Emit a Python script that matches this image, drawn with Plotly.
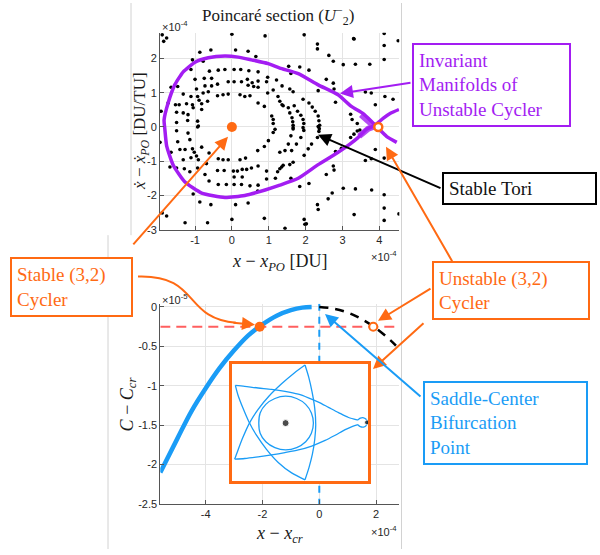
import plotly.graph_objects as go

W, H = 600, 555

# ---------------- DATA (upper panel: Poincaré section, units 1e-4) ----------------
tori_x = [-1.89, -1.77, -1.85, 0.0, -0.87, -0.57, 0.1, 0.44, 0.65, -1.07, -0.78, -1.11, -0.61, -0.37, -0.19, 0.06, 0.24,
          0.46, 0.71, 0.97, -1.0, -0.75, -0.55, -0.1, 0.06, 0.26, 0.42, 0.55, 0.71, 0.94, 1.21, -1.47, -0.96, -0.73,
          -0.55, -0.39, 0.44, 0.59, 0.71, -1.65, -1.32, -1.11, -0.93, -0.78, -0.64, -0.39, -0.24, -0.1, 0.22, 0.35,
          0.49, 0.71, 0.88, 0.97, 1.12, 1.25, 1.36, -1.73, -1.53, -1.43, -1.23, -1.07, -0.89, -0.82, -0.66, -1.5,
          -1.32, -1.19, -1.05, -0.82, 1.08, 1.12, -1.5, -1.2, -0.93, -0.91, 1.12, 1.17, -1.92,
          1.96, 2.32, 2.32, 3.315, 4.13, 4.13, 4.13, 2.63, 2.75, 3.02, 3.35, 3.74, 1.54, 1.84, 2.09, 1.6, 2.56, 2.75,
          2.77, 1.36, 1.57, 1.66, 2.34, 3.62, 3.78, 4.15, 4.37, 3.89, 1.93, 2.09, 2.18, 2.81, 1.3, 1.39, 1.53, 1.69,
          1.57, 1.63, 1.66, 1.66, 1.78, 1.87, 1.93, 2.26, 2.34, 2.36, 2.38, 3.22, 3.26, 3.4, 1.65, 1.95, 1.95, 2.37,
          -1.95, -1.5, -1.19, -0.93, -1.14, -1.47, -1.41, -1.27, -1.07, -1.02, -0.82, -0.62, -1.65, -1.68, -1.5,
          -1.32, -1.11, -0.96, -0.91, -0.69, -0.37, -0.24, -0.1, 0.22, 0.37, 0.7, 0.88, 0.99, 1.12, -1.29, -1.14,
          -0.93, -0.73, -0.39, -0.21, 0.04, 0.15, 0.28, 0.4, 0.53, 0.71, 0.94, 1.24, 1.35, -0.62, -0.37, -0.15,
          0.06, 0.26, 0.49, 0.71, 0.94, 1.18, 0.06, 0.28, -1.05, -0.87, -0.57, 0.1, 0.44, 0.7, -1.89, -1.77, -1.27,
          -0.66, 0.0, 0.88,
          1.66, 1.6, 1.53, 1.44, 1.3, 1.93, 1.87, 1.75, 1.62, 2.34, 2.36, 2.32, 2.16, 2.07, 1.96, 1.3, 1.39, 1.57,
          1.66, 1.6, 1.84, 2.09, 2.56, 2.75, 2.77, 2.81, 3.02, 3.35, 2.72, 2.61, 2.32, 2.34, 1.96, 2.02, 1.98, 1.44,
          3.315, 4.13, 4.13, 4.13, 4.53, 3.62, 3.78, 3.89, 4.13, 3.22, 3.31, 3.4, 3.47, 2.97, 0.9, 3.3, 4.51, 3.79]
tori_y = [2.69, 2.6, 2.5, 2.71, 2.18, 2.25, 2.25, 2.21, 2.06, 1.96, 1.92, 1.68, 1.63, 1.66, 1.68, 1.68, 1.68,
          1.64, 1.61, 1.45, 1.39, 1.42, 1.42, 1.32, 1.32, 1.32, 1.39, 1.29, 1.34, 1.32, 1.37, 1.18, 1.11, 1.2,
          1.2, 1.25, 1.22, 1.18, 1.16, 1.16, 0.96, 0.89, 0.89, 0.99, 1.03, 0.91, 0.94, 0.96, 0.94, 0.89,
          0.91, 0.7, 0.6, 0.99, 1.08, 0.89, 0.65, 0.7, 0.65, 0.65, 0.68, 0.65, 0.78, 0.68, 0.75, 0.43,
          0.41, 0.36, 0.56, 0.51, 0.32, 0.22, 0.13, 0.19, 0.17, 0.03, 0.1, -0.07, 0.46,
          2.69, 2.42, 2.28, 2.57, 2.73, 2.38, 1.97, 2.09, 1.92, 1.82, 1.83, 1.83, 1.77, 1.75, 1.66, 1.56, 1.39, 1.28,
          1.11, 1.2, 1.11, 1.03, 1.06, 1.02, 0.99, 0.89, 0.81, 0.65, 0.81, 0.7, 0.58, 0.72, 0.75, 0.62, 0.56, 0.62,
          0.41, 0.27, 0.05, -0.06, 0.46, 0.34, 0.22, 0.46, 0.32, 0.18, 0.05, 0.37, 0.22, 0.1, 0.15, 0.1, -0.1, -0.05,
          -0.45, -0.11, -0.18, 0.0, -0.37, -0.43, -0.66, -0.66, -0.64, -0.74, -0.59, -0.76, -0.74, -1.17, -1.2,
          -0.96, -0.9, -0.85, -0.96, -1.07, -0.93, -0.96, -0.96, -0.96, -0.91, -0.69, -0.57, -0.4, -0.16, -1.22, -1.31,
          -1.2, -1.39, -1.27, -1.27, -1.29, -1.29, -1.24, -1.24, -1.2, -1.14, -1.29, -1.31, -1.17, -1.58, -1.68, -1.68,
          -1.68, -1.68, -1.72, -1.7, -1.52, -1.5, -1.46, -1.46, -1.96, -2.19, -2.27, -2.27, -2.22, -1.87, -2.51, -2.6, -2.8,
          -2.8, -2.7, -2.67,
          -0.02, -0.26, -0.5, -0.69, -0.74, -0.02, -0.31, -0.5, -0.69, 0.01, -0.13, -0.31, -0.5, -0.64, -0.83, -1.22, -1.12, -1.1,
          -1.03, -1.5, -1.74, -1.65, -1.39, -1.14, -1.26, -0.72, -1.79, -1.81, -1.93, -2.1, -2.27, -2.41, -2.7, -2.83, -2.84, -2.96,
          -2.56, -1.98, -2.37, -2.73, -2.54, -0.98, -0.93, -0.66, -0.91, -0.31, -0.21, -0.12, -0.09, -0.62, 2.66, 2.58, 2.52, -1.84]

manifold_x = [4.47, 4.2, 3.98, 3.78, 3.56, 3.24, 2.88, 2.34, 1.8, 1.3, 0.98, 0.53, 0.17, -0.19, -0.64, -1.0, -1.32,
              -1.55, -1.73, -1.84, -1.82, -1.77, -1.59, -1.28, -0.82, -0.19, 0.35, 0.9, 1.3, 1.8, 2.34, 2.88, 3.2,
              3.42, 3.65, 3.88, 4.1, 4.3, 4.53]
manifold_y = [-0.45, -0.28, -0.05, 0.17, 0.39, 0.6, 0.94, 1.23, 1.56, 1.72, 1.85, 1.96, 2.04, 2.07, 2.02, 1.89, 1.61,
              1.23, 0.7, 0.2, -0.05, -0.55, -1.12, -1.6, -1.93, -2.06, -2.0, -1.84, -1.7, -1.5, -1.1, -0.74, -0.5,
              -0.31, -0.07, 0.05, 0.25, 0.4, 0.51]
fuzz_x = [3.5, 3.7, 3.9, None, 3.45, 3.7, 3.92]
fuzz_y = [0.36, 0.15, -0.02, None, -0.27, -0.05, 0.04]

stable_po_x = [0.0]
stable_po_y = [0.0]
unstable_po_x = [3.97]
unstable_po_y = [0.0]

upper_xticks = [-1, 0, 1, 2, 3, 4]
upper_xtext = ['-1', '0', '1', '2', '3', '4']
upper_yticks = [-3, -2, -1, 0, 1, 2]
upper_ytext = ['-3', '-2', '-1', '0', '1', '2']

# ---------------- DATA (lower panel: x in 1e-4, C in 1e-5) ----------------
stable_branch_x = [-5.6, -5.0, -4.5, -4.0, -3.5, -3.0, -2.5, -2.0, -1.5, -1.0, -0.6, -0.27]
stable_branch_y = [-2.1, -1.67, -1.32, -1.03, -0.77, -0.55, -0.36, -0.22, -0.11, -0.04, -0.008, 0.0]
unstable_branch_x = [0.0, 0.5, 1.0, 1.5, 2.0, 2.5, 2.7]
unstable_branch_y = [0.0, -0.02, -0.07, -0.155, -0.27, -0.42, -0.49]
energy_x = [-5.6, 2.8]
energy_y = [-0.25, -0.25]
bif_x = [0.0, 0.0]
bif_y = [0.04, -2.5]
stable_cyc_x = [-2.1]
stable_cyc_y = [-0.25]
unstable_cyc_x = [1.9]
unstable_cyc_y = [-0.25]

lower_xticks = [-4, -2, 0, 2]
lower_xtext = ['-4', '-2', '0', '2']
lower_yticks = [-2.5, -2, -1.5, -1, -0.5, 0]
lower_ytext = ['-2.5', '-2', '-1.5', '-1', '-0.5', '0']

# ---------------- DATA (inset orbit, inset units) ----------------
inset_a_x = [385, 360, 330, 300, 270, 240, 210, 170, 130, 90, 50, 22]
inset_a_y = [185, 178, 163, 147, 131, 118, 107, 98, 92, 88, 83, 80]
inset_b_x = [22, 30, 45, 62, 85, 115, 150, 190, 230]
inset_b_y = [80, 110, 150, 190, 232, 275, 315, 347, 368]
inset_c_x = [230, 242, 252, 259, 262, 259, 251, 241, 230]
inset_c_y = [368, 330, 290, 245, 200, 150, 100, 55, 18]
inset_d_x = [230, 198, 160, 122, 90, 64, 44, 29, 20]
inset_d_y = [18, 42, 75, 113, 153, 195, 240, 280, 305]
inset_e_x = [20, 50, 90, 130, 170, 210, 250, 290, 320, 350, 372, 388]
inset_e_y = [305, 303, 298, 292, 285, 277, 265, 248, 232, 215, 205, 200]
inset_loop_x = [388, 395, 405, 413, 416, 413, 405, 395, 388, 385]
inset_loop_y = [200, 206, 207, 202, 193, 184, 179, 180, 185, 185]
inset_circ_x = [255, 249, 232, 205, 172, 140, 113, 96, 92, 96, 113, 140, 172, 205, 232, 249, 255]
inset_circ_y = [195, 226, 252, 270, 277, 270, 252, 226, 195, 164, 138, 120, 113, 120, 138, 164, 195]
inset_dots_x = [172, 415]
inset_dots_y = [195, 193]
inset_dot_sizes = [7, 5]

# ---------------- STYLE ----------------
ORANGE = '#ff6a13'
PURPLE = '#a31df2'
BLUE = '#1a9cf6'
RED = '#ff5f5f'
SERIF = 'Liberation Serif'
SANS = 'Liberation Sans'


def px(x):
    return x / W


def py(y):
    return 1 - y / H


fig = go.Figure()

# upper panel traces
fig.add_trace(go.Scatter(x=tori_x, y=tori_y, mode='markers', marker=dict(color='black', size=3.6),
                         xaxis='x', yaxis='y', hoverinfo='skip'))
fig.add_trace(go.Scatter(x=manifold_x, y=manifold_y, mode='lines', line=dict(color=PURPLE, width=3.5, shape='spline', smoothing=0.5),
                         xaxis='x', yaxis='y'))
fig.add_trace(go.Scatter(x=fuzz_x, y=fuzz_y, mode='lines', line=dict(color=PURPLE, width=6), opacity=0.8,
                         xaxis='x', yaxis='y'))
fig.add_trace(go.Scatter(x=stable_po_x, y=stable_po_y, mode='markers', marker=dict(color=ORANGE, size=10),
                         xaxis='x', yaxis='y'))
fig.add_trace(go.Scatter(x=unstable_po_x, y=unstable_po_y, mode='markers',
                         marker=dict(color='white', size=8, line=dict(color=ORANGE, width=2.5)),
                         xaxis='x', yaxis='y'))

# lower panel traces
fig.add_trace(go.Scatter(x=bif_x, y=bif_y, mode='lines', line=dict(color=BLUE, width=2, dash='7px,6px'),
                         xaxis='x2', yaxis='y2'))
fig.add_trace(go.Scatter(x=energy_x, y=energy_y, mode='lines', line=dict(color=RED, width=2, dash='10px,6px'),
                         xaxis='x2', yaxis='y2'))
fig.add_trace(go.Scatter(x=stable_branch_x, y=stable_branch_y, mode='lines',
                         line=dict(color=BLUE, width=4.5, shape='spline'), xaxis='x2', yaxis='y2'))
fig.add_trace(go.Scatter(x=unstable_branch_x, y=unstable_branch_y, mode='lines',
                         line=dict(color='black', width=2.5, dash='9px,7px', shape='spline'), xaxis='x2', yaxis='y2'))
fig.add_trace(go.Scatter(x=stable_cyc_x, y=stable_cyc_y, mode='markers', marker=dict(color=ORANGE, size=10),
                         xaxis='x2', yaxis='y2'))
fig.add_trace(go.Scatter(x=unstable_cyc_x, y=unstable_cyc_y, mode='markers',
                         marker=dict(color='white', size=8, line=dict(color=ORANGE, width=2)),
                         xaxis='x2', yaxis='y2'))

# inset traces
for sx, sy in [(inset_a_x, inset_a_y), (inset_b_x, inset_b_y), (inset_c_x, inset_c_y), (inset_d_x, inset_d_y),
               (inset_e_x, inset_e_y), (inset_loop_x, inset_loop_y), (inset_circ_x, inset_circ_y)]:
    fig.add_trace(go.Scatter(x=sx, y=sy, mode='lines', line=dict(color=BLUE, width=1.3, shape='spline', smoothing=0.8),
                             xaxis='x3', yaxis='y3'))
fig.add_trace(go.Scatter(x=inset_dots_x, y=inset_dots_y, mode='markers',
                         marker=dict(color='black', size=inset_dot_sizes), xaxis='x3', yaxis='y3'))

axis_common = dict(showgrid=True, gridcolor='#e4e4e4', gridwidth=1, zeroline=False, showline=True,
                   linecolor='#555555', linewidth=1, ticks='inside', ticklen=4, tickcolor='#555555',
                   tickfont=dict(family=SANS, size=11, color='#262626'), mirror=False, fixedrange=True)

fig.update_layout(
    width=W, height=H, margin=dict(l=0, r=0, t=0, b=0),
    paper_bgcolor='white', plot_bgcolor='white', showlegend=False,
    xaxis=dict(axis_common, domain=[px(160), px(399.3)], range=[-1.95, 4.54], anchor='y',
               tickvals=upper_xticks, ticktext=upper_xtext),
    yaxis=dict(axis_common, domain=[py(230.4), py(30.3)], range=[-3, 2.75], anchor='x',
               tickvals=upper_yticks, ticktext=upper_ytext),
    xaxis2=dict(axis_common, domain=[px(160.3), px(398.8)], range=[-5.6, 2.8], anchor='y2',
                tickvals=lower_xticks, ticktext=lower_xtext),
    yaxis2=dict(axis_common, domain=[py(509.3), py(305.8)], range=[-2.5, 0.04], anchor='x2',
                tickvals=lower_yticks, ticktext=lower_ytext),
    xaxis3=dict(domain=[px(232), px(368)], range=[12, 418], anchor='y3', showgrid=False, zeroline=False,
                showticklabels=False, ticks='', showline=True, mirror=True, linecolor=ORANGE, linewidth=2.5,
                fixedrange=True),
    yaxis3=dict(domain=[py(486), py(367)], range=[372, 15], anchor='x3', showgrid=False, zeroline=False,
                showticklabels=False, ticks='', showline=True, mirror=True, linecolor=ORANGE, linewidth=2.5,
                fixedrange=True),
)

# frame lines
shapes = []
for (x0, y0, x1, y1) in [(401.5, 0, 401.5, 555), (131, 0, 131, 236), (108, 236, 108, 555)]:
    shapes.append(dict(type='line', xref='paper', yref='paper', x0=px(x0), y0=py(y0), x1=px(x1), y1=py(y1),
                       line=dict(color='#d2d2d2', width=1), layer='below'))
# curved orange connector
shapes.append(dict(type='path', xref='paper', yref='paper',
                   path=f"M {px(138)},{py(278)} C {px(200)},{py(276)} {px(183)},{py(321)} {px(236)},{py(325)}",
                   line=dict(color=ORANGE, width=2)))
fig.update_layout(shapes=shapes)

ann = []


def text_ann(x, y, text, size, **kw):
    d = dict(xref='paper', yref='paper', x=px(x), y=py(y), text=text, showarrow=False,
             xanchor='center', yanchor='middle',
             font=dict(family=kw.pop('family', SERIF), size=size, color=kw.pop('color', '#1a1a1a')))
    d.update(kw)
    ann.append(d)


def box_ann(x0, y0, x1, y1, text, color, size=19, pad=5):
    ann.append(dict(xref='paper', yref='paper', x=px(x0), y=py(y0), xanchor='left', yanchor='top',
                    text=text, showarrow=False, align='left', valign='middle',
                    font=dict(family=SERIF, size=size, color=color if color != 'black' else '#111111'),
                    bordercolor=color, borderwidth=2, borderpad=pad, bgcolor='white',
                    width=(x1 - x0) - 2 * pad - 4, height=(y1 - y0) - 2 * pad - 4))


def arrow(hx, hy, tx, ty, color, width=2):
    ann.append(dict(xref='paper', yref='paper', x=px(hx), y=py(hy), ax=tx - hx, ay=ty - hy,
                    text='', showarrow=True, arrowhead=2, arrowsize=1.3, arrowwidth=width, arrowcolor=color,
                    standoff=0))


# titles and labels
text_ann(278, 13, 'Poincaré section (<i>U</i><sup>−</sup><sub>2</sub>)', 17)
text_ann(279, 264, '<i>x</i> − <i>x</i><sub><i>PO</i></sub> [DU]', 18)
text_ann(141, 130, '<i>ẋ</i> − <i>ẋ</i><sub><i>PO</i></sub> [DU/TU]', 17, textangle=-90)
text_ann(279, 540, '<i>x</i> − <i>x</i><sub><i>cr</i></sub>', 18)
text_ann(128, 408, '<i>C</i> − <i>C</i><sub><i>cr</i></sub>', 18, textangle=-90)
text_ann(160, 23, '×10<sup>-4</sup>', 11, family=SANS, xanchor='left', color='#262626')
text_ann(399, 257, '×10<sup>-4</sup>', 11, family=SANS, xanchor='right', color='#262626')
text_ann(160, 301, '×10<sup>-5</sup>', 11, family=SANS, xanchor='left', color='#262626')
text_ann(399, 537, '×10<sup>-4</sup>', 11, family=SANS, xanchor='right', color='#262626')

# arrows
arrow(340, 92, 412, 81, PURPLE)
arrow(318, 134, 442, 188, 'black')
arrow(228, 136, 132, 245, ORANGE)
arrow(386, 146, 453, 262, ORANGE)
arrow(378, 323, 432, 290, ORANGE)
arrow(373, 372, 425, 325, ORANGE)
arrow(325, 316, 422, 400, BLUE)
arrow(255, 327, 232, 325, ORANGE)

# callout boxes
box_ann(412, 41, 571, 125, 'Invariant<br>Manifolds of<br>Unstable Cycler', PURPLE)
box_ann(442, 172, 597, 205, 'Stable Tori', 'black')
box_ann(10, 258, 133, 318, 'Stable (3,2)<br>Cycler', ORANGE)
box_ann(432, 262, 590, 321, 'Unstable (3,2)<br>Cycler', ORANGE)
box_ann(423, 384, 588, 468, 'Saddle-Center<br>Bifurcation<br>Point', BLUE)

fig.update_layout(annotations=ann)
fig.write_html('out.html', config={'displayModeBar': False},
               post_script="document.body.style.margin='0px';document.body.style.overflow='hidden';")
